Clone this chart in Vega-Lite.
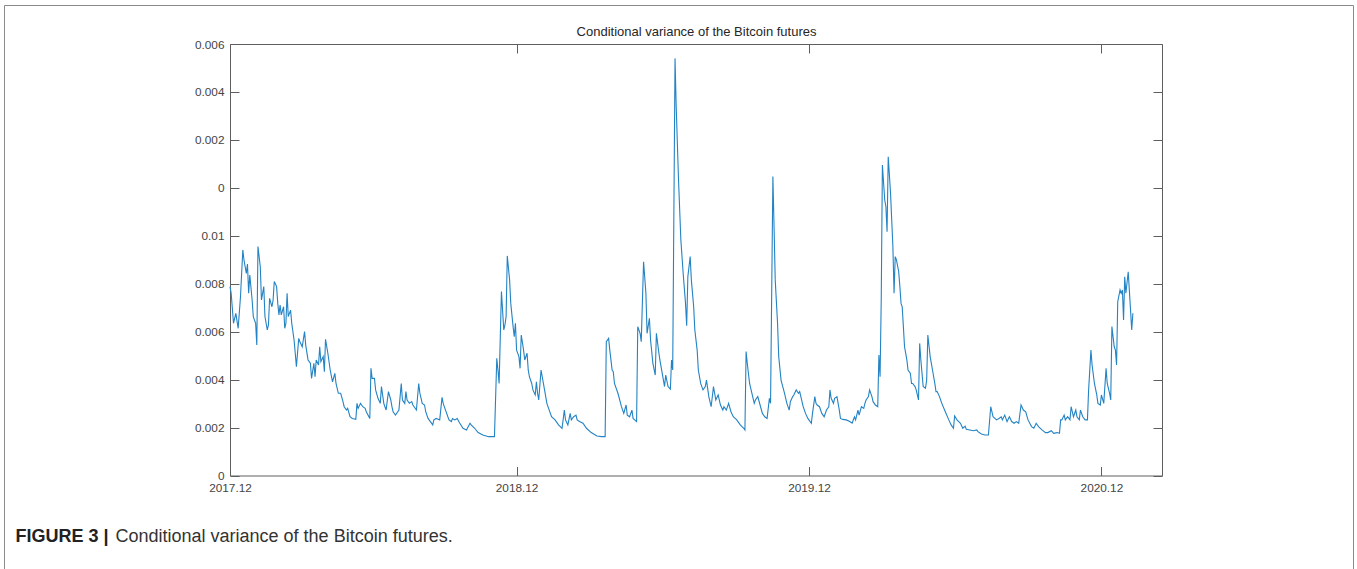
{
 "$schema": "https://vega.github.io/schema/vega-lite/v6.json",
 "width": 1349,
 "height": 564,
 "autosize": {"type": "none"},
 "padding": {"left": 4, "top": 5, "right": 4, "bottom": 0},
 "background": "white",
 "data": {"values": [
{"t":0,"v":0.00788},{"t":1,"v":0.00760},{"t":3,"v":0.00635},{"t":5,"v":0.00676},{"t":7,"v":0.00614},{"t":9,"v":0.00746},{"t":11,"v":0.00941},{"t":12,"v":0.00899},{"t":14,"v":0.00843},{"t":15,"v":0.00882},{"t":16,"v":0.00760},{"t":17,"v":0.00836},{"t":19,"v":0.00732},{"t":20,"v":0.00663},{"t":22,"v":0.00635},{"t":23,"v":0.00544},{"t":24,"v":0.00955},{"t":26,"v":0.00871},{"t":27,"v":0.00732},{"t":29,"v":0.00788},{"t":30,"v":0.00663},{"t":32,"v":0.00607},{"t":33,"v":0.00628},{"t":34,"v":0.00739},{"t":36,"v":0.00704},{"t":37,"v":0.00732},{"t":38,"v":0.00809},{"t":40,"v":0.00788},{"t":41,"v":0.00718},{"t":42,"v":0.00670},{"t":43,"v":0.00711},{"t":44,"v":0.00670},{"t":46,"v":0.00704},{"t":47,"v":0.00614},{"t":48,"v":0.00635},{"t":49,"v":0.00760},{"t":50,"v":0.00663},{"t":52,"v":0.00690},{"t":53,"v":0.00635},{"t":55,"v":0.00565},{"t":56,"v":0.00510},{"t":57,"v":0.00454},{"t":59,"v":0.00572},{"t":60,"v":0.00558},{"t":62,"v":0.00537},{"t":64,"v":0.00600},{"t":65,"v":0.00544},{"t":67,"v":0.00482},{"t":69,"v":0.00468},{"t":70,"v":0.00405},{"t":72,"v":0.00468},{"t":73,"v":0.00412},{"t":74,"v":0.00482},{"t":76,"v":0.00461},{"t":77,"v":0.00537},{"t":78,"v":0.00475},{"t":80,"v":0.00496},{"t":81,"v":0.00433},{"t":82,"v":0.00568},{"t":84,"v":0.00510},{"t":86,"v":0.00440},{"t":88,"v":0.00391},{"t":90,"v":0.00426},{"t":91,"v":0.00384},{"t":93,"v":0.00343},{"t":95,"v":0.00343},{"t":97,"v":0.00308},{"t":98,"v":0.00287},{"t":100,"v":0.00273},{"t":101,"v":0.00280},{"t":103,"v":0.00245},{"t":105,"v":0.00238},{"t":108,"v":0.00234},{"t":109,"v":0.00301},{"t":110,"v":0.00280},{"t":112,"v":0.00301},{"t":114,"v":0.00287},{"t":116,"v":0.00280},{"t":117,"v":0.00266},{"t":120,"v":0.00238},{"t":121,"v":0.00447},{"t":122,"v":0.00405},{"t":124,"v":0.00405},{"t":125,"v":0.00357},{"t":127,"v":0.00322},{"t":129,"v":0.00301},{"t":130,"v":0.00371},{"t":132,"v":0.00301},{"t":133,"v":0.00287},{"t":134,"v":0.00273},{"t":136,"v":0.00350},{"t":138,"v":0.00315},{"t":139,"v":0.00287},{"t":140,"v":0.00266},{"t":142,"v":0.00252},{"t":145,"v":0.00273},{"t":147,"v":0.00384},{"t":148,"v":0.00315},{"t":150,"v":0.00301},{"t":151,"v":0.00350},{"t":152,"v":0.00315},{"t":154,"v":0.00301},{"t":156,"v":0.00308},{"t":157,"v":0.00294},{"t":160,"v":0.00273},{"t":162,"v":0.00384},{"t":163,"v":0.00343},{"t":165,"v":0.00301},{"t":167,"v":0.00294},{"t":168,"v":0.00266},{"t":170,"v":0.00238},{"t":172,"v":0.00225},{"t":174,"v":0.00211},{"t":175,"v":0.00232},{"t":177,"v":0.00238},{"t":180,"v":0.00232},{"t":182,"v":0.00326},{"t":183,"v":0.00301},{"t":185,"v":0.00273},{"t":187,"v":0.00245},{"t":188,"v":0.00232},{"t":190,"v":0.00225},{"t":191,"v":0.00238},{"t":193,"v":0.00232},{"t":195,"v":0.00238},{"t":197,"v":0.00220},
{"t":200,"v":0.00197},{"t":203,"v":0.00190},{"t":206,"v":0.00218},{"t":207,"v":0.00211},{"t":210,"v":0.00197},{"t":213,"v":0.00179},{"t":217,"v":0.00169},{"t":222,"v":0.00162},{"t":227,"v":0.00162},{"t":229,"v":0.00489},{"t":230,"v":0.00440},{"t":231,"v":0.00384},{"t":233,"v":0.00767},{"t":235,"v":0.00607},{"t":236,"v":0.00628},{"t":237,"v":0.00663},{"t":238,"v":0.00916},{"t":240,"v":0.00816},{"t":241,"v":0.00718},{"t":243,"v":0.00621},{"t":244,"v":0.00579},{"t":245,"v":0.00635},{"t":246,"v":0.00523},{"t":248,"v":0.00496},{"t":249,"v":0.00447},{"t":250,"v":0.00586},{"t":252,"v":0.00523},{"t":253,"v":0.00482},{"t":255,"v":0.00510},{"t":256,"v":0.00440},{"t":257,"v":0.00412},{"t":259,"v":0.00384},{"t":260,"v":0.00357},{"t":262,"v":0.00336},{"t":263,"v":0.00391},{"t":264,"v":0.00343},{"t":265,"v":0.00315},{"t":267,"v":0.00440},{"t":268,"v":0.00412},{"t":270,"v":0.00357},{"t":272,"v":0.00301},{"t":274,"v":0.00273},{"t":276,"v":0.00245},{"t":279,"v":0.00232},{"t":282,"v":0.00211},{"t":285,"v":0.00197},{"t":287,"v":0.00273},{"t":288,"v":0.00232},{"t":290,"v":0.00211},{"t":292,"v":0.00259},{"t":293,"v":0.00232},{"t":295,"v":0.00245},{"t":297,"v":0.00252},{"t":298,"v":0.00232},{"t":300,"v":0.00225},{"t":303,"v":0.00218},{"t":306,"v":0.00197},{"t":310,"v":0.00179},{"t":315,"v":0.00165},{"t":319,"v":0.00162},{"t":322,"v":0.00162},{"t":323,"v":0.00558},{"t":325,"v":0.00572},{"t":326,"v":0.00523},{"t":328,"v":0.00440},{"t":329,"v":0.00433},{"t":330,"v":0.00384},{"t":333,"v":0.00343},{"t":336,"v":0.00287},{"t":338,"v":0.00259},{"t":340,"v":0.00294},{"t":341,"v":0.00252},{"t":343,"v":0.00245},{"t":345,"v":0.00273},{"t":346,"v":0.00238},{"t":349,"v":0.00225},{"t":350,"v":0.00621},{"t":352,"v":0.00593},{"t":353,"v":0.00558},{"t":355,"v":0.00892},{"t":357,"v":0.00760},{"t":358,"v":0.00593},{"t":360,"v":0.00656},{"t":361,"v":0.00565},{"t":363,"v":0.00468},{"t":365,"v":0.00419},{"t":366,"v":0.00593},{"t":368,"v":0.00516},{"t":369,"v":0.00482},{"t":371,"v":0.00426},{"t":373,"v":0.00371},{"t":374,"v":0.00419},{"t":376,"v":0.00371},{"t":378,"v":0.00360},{"t":379,"v":0.00482},{"t":380,"v":0.00440},{"t":382,"v":0.01740},{"t":383,"v":0.01539},{"t":385,"v":0.01233},{"t":387,"v":0.00982},{"t":389,"v":0.00843},{"t":391,"v":0.00718},{"t":392,"v":0.00625},{"t":393,"v":0.00829},{"t":395,"v":0.00913},
{"t":396,"v":0.00816},{"t":398,"v":0.00704},{"t":399,"v":0.00607},{"t":401,"v":0.00523},{"t":402,"v":0.00440},{"t":404,"v":0.00384},{"t":406,"v":0.00357},{"t":408,"v":0.00371},{"t":409,"v":0.00398},{"t":411,"v":0.00329},{"t":413,"v":0.00287},{"t":415,"v":0.00371},{"t":417,"v":0.00315},{"t":419,"v":0.00336},{"t":421,"v":0.00294},{"t":423,"v":0.00273},{"t":424,"v":0.00287},{"t":426,"v":0.00273},{"t":428,"v":0.00301},{"t":430,"v":0.00266},{"t":432,"v":0.00245},{"t":435,"v":0.00232},{"t":438,"v":0.00211},{"t":441,"v":0.00197},{"t":442,"v":0.00190},{"t":443,"v":0.00517},{"t":444,"v":0.00468},{"t":446,"v":0.00384},{"t":448,"v":0.00343},{"t":450,"v":0.00301},{"t":451,"v":0.00315},{"t":453,"v":0.00329},{"t":455,"v":0.00294},{"t":457,"v":0.00259},{"t":459,"v":0.00245},{"t":461,"v":0.00238},{"t":463,"v":0.00322},{"t":464,"v":0.00301},{"t":466,"v":0.01247},{"t":467,"v":0.01038},{"t":468,"v":0.00816},{"t":470,"v":0.00635},{"t":471,"v":0.00496},{"t":473,"v":0.00398},{"t":476,"v":0.00343},{"t":478,"v":0.00301},{"t":480,"v":0.00273},{"t":481,"v":0.00308},{"t":483,"v":0.00329},{"t":484,"v":0.00336},{"t":486,"v":0.00357},{"t":488,"v":0.00343},{"t":489,"v":0.00350},{"t":491,"v":0.00308},{"t":492,"v":0.00287},{"t":494,"v":0.00259},{"t":496,"v":0.00238},{"t":499,"v":0.00218},{"t":500,"v":0.00259},{"t":502,"v":0.00329},{"t":503,"v":0.00301},{"t":504,"v":0.00294},{"t":506,"v":0.00287},{"t":508,"v":0.00259},{"t":510,"v":0.00245},{"t":512,"v":0.00273},{"t":514,"v":0.00287},{"t":515,"v":0.00357},{"t":516,"v":0.00322},{"t":518,"v":0.00301},{"t":519,"v":0.00322},{"t":521,"v":0.00329},{"t":523,"v":0.00273},{"t":524,"v":0.00238},{"t":526,"v":0.00234},{"t":529,"v":0.00232},{"t":532,"v":0.00225},{"t":534,"v":0.00218},{"t":536,"v":0.00245},{"t":537,"v":0.00232},{"t":539,"v":0.00273},{"t":540,"v":0.00252},{"t":542,"v":0.00287},{"t":544,"v":0.00280},{"t":545,"v":0.00301},{"t":546,"v":0.00315},{"t":548,"v":0.00329},{"t":549,"v":0.00357},{"t":551,"v":0.00329},{"t":552,"v":0.00308},{"t":554,"v":0.00294},{"t":556,"v":0.00287},{"t":557,"v":0.00503},{"t":558,"v":0.00412},{"t":559,"v":0.00732},{"t":560,"v":0.01295},{"t":562,"v":0.01149},{"t":563,"v":0.01121},{"t":564,"v":0.01017},{"t":565,"v":0.01330},{"t":567,"v":0.01177},{"t":568,"v":0.01066},{"t":569,"v":0.00955},{"t":570,"v":0.00760},{"t":571,"v":0.00913},{"t":572,"v":0.00900},{"t":574,"v":0.00850},{"t":575,"v":0.00788},{"t":576,"v":0.00718},{"t":577,"v":0.00704},{"t":578,"v":0.00621},{"t":579,"v":0.00537},{"t":581,"v":0.00482},{"t":582,"v":0.00440},{"t":584,"v":0.00426},{"t":585,"v":0.00384},{"t":586,"v":0.00384},{"t":588,"v":0.00371},{"t":589,"v":0.00357},{"t":591,"v":0.00315},{"t":592,"v":0.00551},{"t":593,"v":0.00482},{"t":595,"v":0.00371},{"t":597,"v":0.00364},{"t":598,"v":0.00398},{"t":599,"v":0.00586},{"t":601,"v":0.00496},{"t":603,"v":0.00440},{"t":605,"v":0.00384},{"t":606,"v":0.00350},{"t":607,"v":0.00350},{"t":609,"v":0.00329},{"t":611,"v":0.00301},{"t":614,"v":0.00266},{"t":617,"v":0.00232},{"t":619,"v":0.00211},{"t":621,"v":0.00197},{"t":622,"v":0.00248},{"t":624,"v":0.00232},{"t":627,"v":0.00218},{"t":629,"v":0.00197},{"t":631,"v":0.00206},{"t":632,"v":0.00193},{"t":635,"v":0.00190},{"t":638,"v":0.00187},{"t":641,"v":0.00190},{"t":642,"v":0.00183},{"t":645,"v":0.00173},{"t":648,"v":0.00169},{"t":651,"v":0.00169},{"t":653,"v":0.00287},{"t":655,"v":0.00245},{"t":658,"v":0.00232},{"t":660,"v":0.00238},{"t":662,"v":0.00245},{"t":663,"v":0.00232},{"t":665,"v":0.00252},{"t":667,"v":0.00225},{"t":669,"v":0.00245},{"t":671,"v":0.00225},{"t":673,"v":0.00218},{"t":675,"v":0.00225},{"t":677,"v":0.00218},{"t":679,"v":0.00294},{"t":681,"v":0.00273},{"t":683,"v":0.00266},{"t":685,"v":0.00232},{"t":688,"v":0.00204},{"t":690,"v":0.00197},{"t":692,"v":0.00218},{"t":694,"v":0.00204},{"t":697,"v":0.00190},{"t":700,"v":0.00179},{"t":702,"v":0.00179},{"t":705,"v":0.00187},{"t":707,"v":0.00176},{"t":710,"v":0.00179},{"t":712,"v":0.00176},{"t":713,"v":0.00232},{"t":714,"v":0.00232},{"t":716,"v":0.00252},{"t":717,"v":0.00232},{"t":719,"v":0.00245},{"t":721,"v":0.00232},{"t":722,"v":0.00287},{"t":724,"v":0.00245},{"t":726,"v":0.00273},{"t":727,"v":0.00245},{"t":729,"v":0.00232},{"t":730,"v":0.00273},{"t":732,"v":0.00245},{"t":734,"v":0.00232},{"t":736,"v":0.00232},{"t":737,"v":0.00357},{"t":739,"v":0.00523},{"t":740,"v":0.00461},{"t":742,"v":0.00384},{"t":744,"v":0.00336},{"t":745,"v":0.00301},{"t":747,"v":0.00294},{"t":748,"v":0.00336},{"t":750,"v":0.00301},{"t":752,"v":0.00447},{"t":753,"v":0.00384},{"t":755,"v":0.00343},{"t":756,"v":0.00315},{"t":757,"v":0.00621},{"t":759,"v":0.00537},{"t":760,"v":0.00523},{"t":761,"v":0.00461},{"t":762,"v":0.00725},{"t":764,"v":0.00774},{"t":765,"v":0.00760},{"t":766,"v":0.00774},{"t":767,"v":0.00649},{"t":768,"v":0.00829},{"t":769,"v":0.00760},{"t":771,"v":0.00850},{"t":773,"v":0.00690},{"t":774,"v":0.00607},{"t":775,"v":0.00677}
 ]},
 "config": {
  "view": {"stroke": "#8a8a8a", "strokeWidth": 1},
  "axis": {"grid": false, "domainColor": "#5e5e5e", "tickColor": "#5e5e5e", "labelColor": "#454545", "labelFont": "Liberation Sans", "labelFontSize": 11.8, "titleFont": "Liberation Sans", "domainWidth": 1, "tickWidth": 1, "labelFlush": false, "labelOverlap": false}
 },
 "layer": [
  {
   "mark": {"type": "line", "color": "#2383c4", "strokeWidth": 1.1},
   "encoding": {
    "x": {"field": "t", "type": "quantitative",
     "scale": {"domain": [0, 800], "range": [226, 1158], "nice": false, "zero": false},
     "axis": {"orient": "bottom", "offset": -93.5, "values": [0, 246, 497, 748],
      "labelExpr": "datum.value == 0 ? '2017.12' : datum.value == 246 ? '2018.12' : datum.value == 497 ? '2019.12' : '2020.12'",
      "tickSize": -9, "labelPadding": 16,
      "title": "Conditional variance of the Bitcoin futures.", "titleX": 111, "titleY": 65.5, "titleAlign": "left", "titleBaseline": "alphabetic", "titleFontSize": 18, "titleFontWeight": "normal", "titleColor": "#333333"}},
    "y": {"field": "v", "type": "quantitative",
     "scale": {"domain": [0, 0.018], "range": [470.5, 39], "nice": false, "zero": false},
     "axis": {"orient": "left", "offset": -226, "values": [0, 0.002, 0.004, 0.006, 0.008, 0.01, 0.012, 0.014, 0.016, 0.018],
      "labelExpr": "format(datum.value > 0.011 ? datum.value - 0.012 : datum.value, '.3~f')",
      "tickSize": -9, "labelPadding": 15,
      "title": "FIGURE 3 |", "titleAngle": 0, "titleX": -215, "titleY": 536, "titleAlign": "left", "titleBaseline": "alphabetic", "titleFontSize": 18, "titleFontWeight": "bold", "titleColor": "#222222"}}
   }
  },
  {
   "mark": {"type": "line", "opacity": 0},
   "encoding": {
    "x": {"field": "t", "type": "quantitative",
     "scale": {"domain": [0, 800], "range": [226, 1158], "nice": false, "zero": false},
     "axis": {"orient": "top", "offset": -39, "values": [0, 246, 497, 748], "labels": false, "tickSize": -9,
      "title": "Conditional variance of the Bitcoin futures", "titleFontSize": 13, "titleFontWeight": "normal", "titleColor": "#262626", "titlePadding": 5}},
    "y": {"field": "v", "type": "quantitative",
     "scale": {"domain": [0, 0.018], "range": [470.5, 39], "nice": false, "zero": false},
     "axis": {"orient": "right", "offset": -191, "values": [0, 0.002, 0.004, 0.006, 0.008, 0.01, 0.012, 0.014, 0.016, 0.018], "labels": false, "tickSize": -9, "title": null}}
   }
  }
 ],
 "resolve": {"scale": {"x": "independent", "y": "independent"}, "axis": {"x": "independent", "y": "independent"}}
}
